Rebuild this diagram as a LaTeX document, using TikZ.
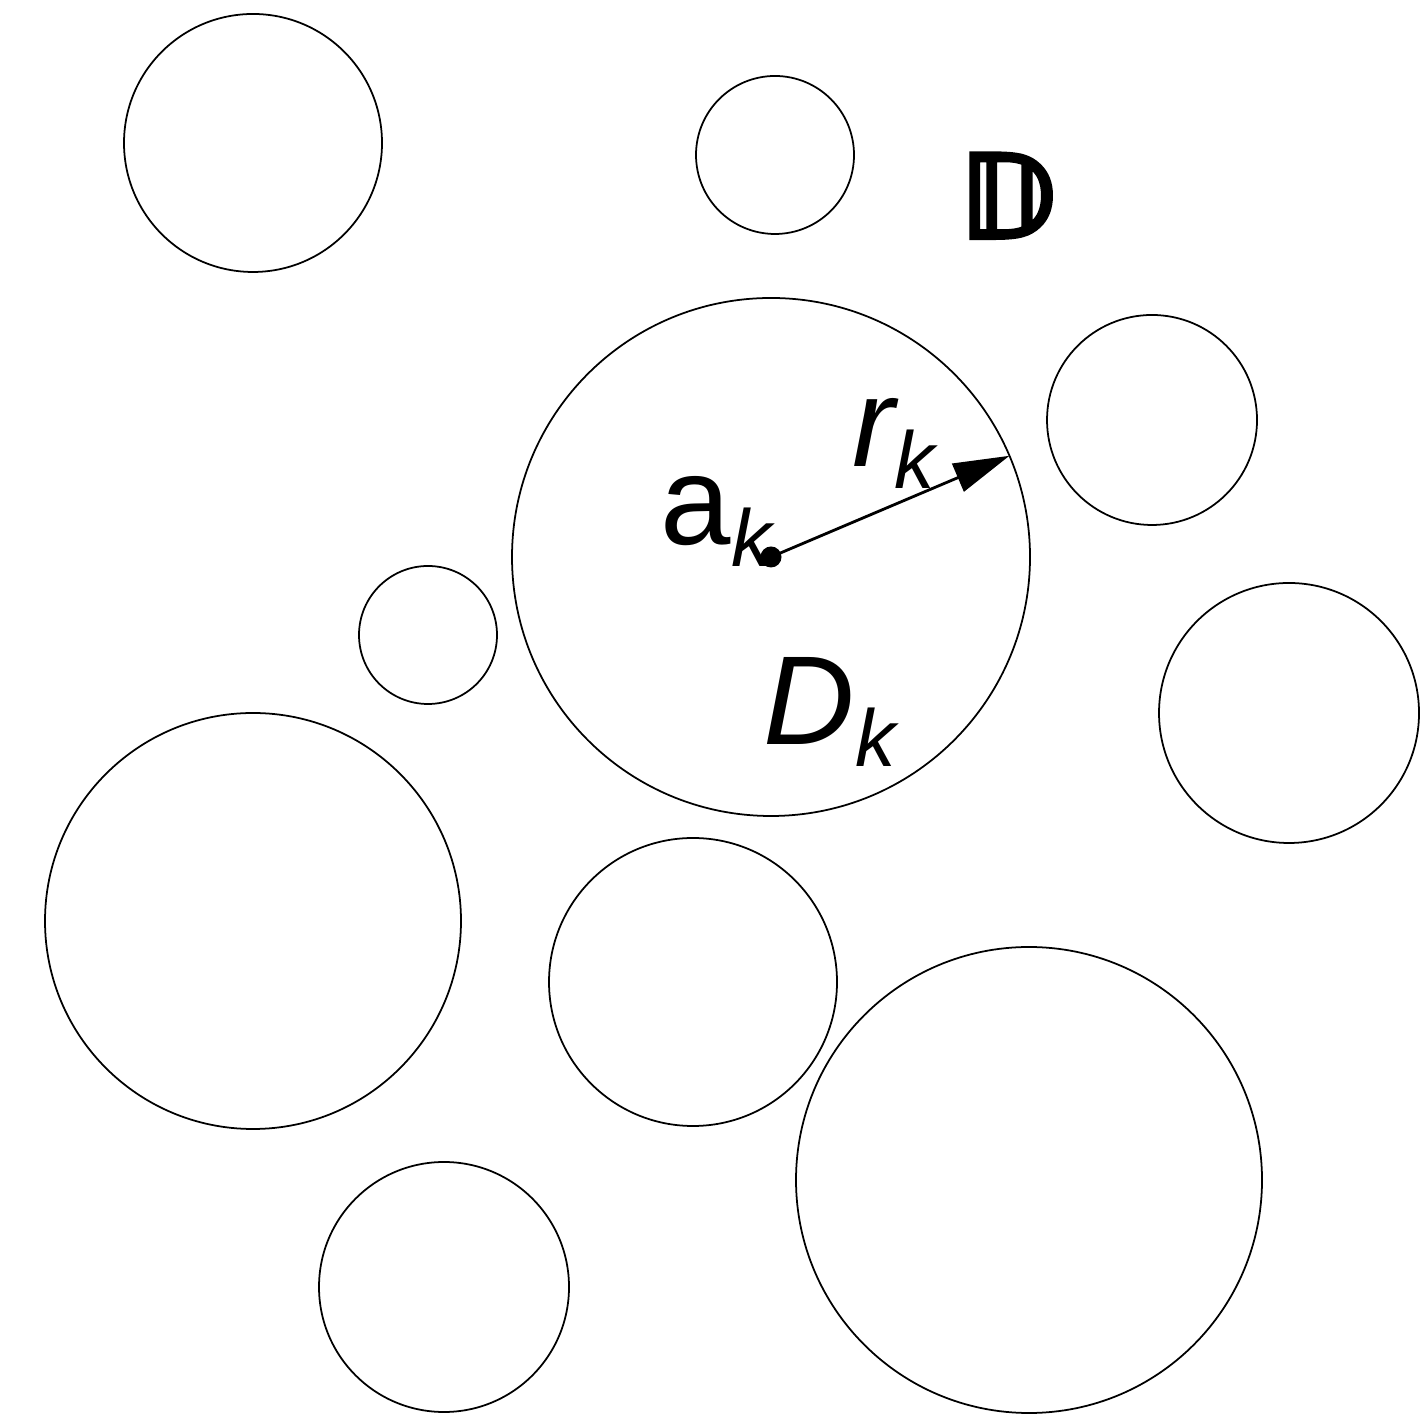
\documentclass[tikz,border=0pt]{standalone}
\usepackage{fontspec}
\setmainfont{Liberation Sans}
\newfontfamily\dejavu[FakeBold=3.5]{DejaVu Sans}
\usetikzlibrary{arrows.meta,positioning,calc}
\tikzset{
  kor/.style={circle,draw,line width=0.5pt,inner sep=0pt,outer sep=0pt},
  kozep/.style={circle,fill,inner sep=0pt,minimum size=2.1mm},
  nyil/.style={-{Triangle[length=5.6mm,width=3mm]},line width=0.8pt},
  felirat/.style={inner sep=0pt,anchor=base west,font=\fontsize{36}{40}\selectfont},
}
\newcommand{\alsok}{\raisebox{-0.22cm}{\fontsize{23}{23}\selectfont\itshape k}}

\begin{document}
\begin{tikzpicture}
  \useasboundingbox (0,0) rectangle (14.24,14.18);
  % the disc D_k
  \node[kor,minimum size=51.8mm] (fo) at (7.71,8.61) {};
  % the other discs
  \foreach \x/\y/\r [count=\i] in {2.53/12.75/1.29, 7.75/12.63/0.79, 11.52/9.98/1.05,
      4.28/7.83/0.69, 12.89/7.05/1.30, 2.53/4.97/2.08, 6.93/4.36/1.44,
      4.44/1.31/1.25, 10.29/2.38/2.33} {
    \node[kor,minimum size=2*\r cm] (k\i) at (\x,\y) {};
  }
  \node[kozep] (ak) at (fo.center) {};
  \draw[nyil] (ak.center) -- (fo.23);
  \node[felirat] (cimke-a) at (6.60,8.73) {a\alsok};
  \node[felirat] (cimke-r) at (8.52,9.51) {\itshape r\alsok};
  \node[felirat] (cimke-d) at (7.63,6.73) {\itshape D\alsok};
  \node[felirat,font=\fontsize{33}{40}\selectfont\dejavu\bfseries] (tartomany) at (9.60,11.80) {𝔻};
\end{tikzpicture}
\end{document}
